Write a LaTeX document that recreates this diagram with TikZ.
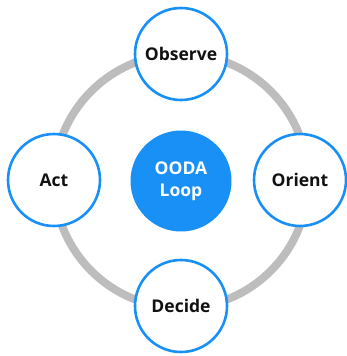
\documentclass[tikz,border=0pt]{standalone}
\usepackage{fontspec}
\setmainfont{Open Sans}
\usepackage{xcolor}
\definecolor{loopblue}{HTML}{1890F5}
\definecolor{ringgray}{HTML}{BDBDBD}
\definecolor{textdark}{HTML}{111111}
\usetikzlibrary{positioning,backgrounds}

\begin{document}
\begin{tikzpicture}[x=1pt, y=-1pt,
    stage/.style={circle, draw=loopblue, line width=2.6pt, fill=white, minimum size=92pt, inner sep=0pt, font=\fontsize{17.5}{20}\selectfont\bfseries, text=textdark},
    hub/.style={circle, fill=loopblue, minimum size=101pt, inner sep=0pt, align=center, font=\fontsize{17.5}{22}\selectfont\bfseries, text=white}]
    \useasboundingbox (0,0) rectangle (347,356);
    \node[hub] (ooda) at (181,181) {OODA\\Loop};
    \draw[ringgray, line width=8pt] (ooda.center) circle[radius=127];
    \node[stage] (observe) at (181,54) {Observe};
    \node[stage] (orient) at (300,180) {Orient};
    \node[stage] (decide) at (181,306) {Decide};
    \node[stage] (act) at (54,180) {Act};
  \end{tikzpicture}
\end{document}
